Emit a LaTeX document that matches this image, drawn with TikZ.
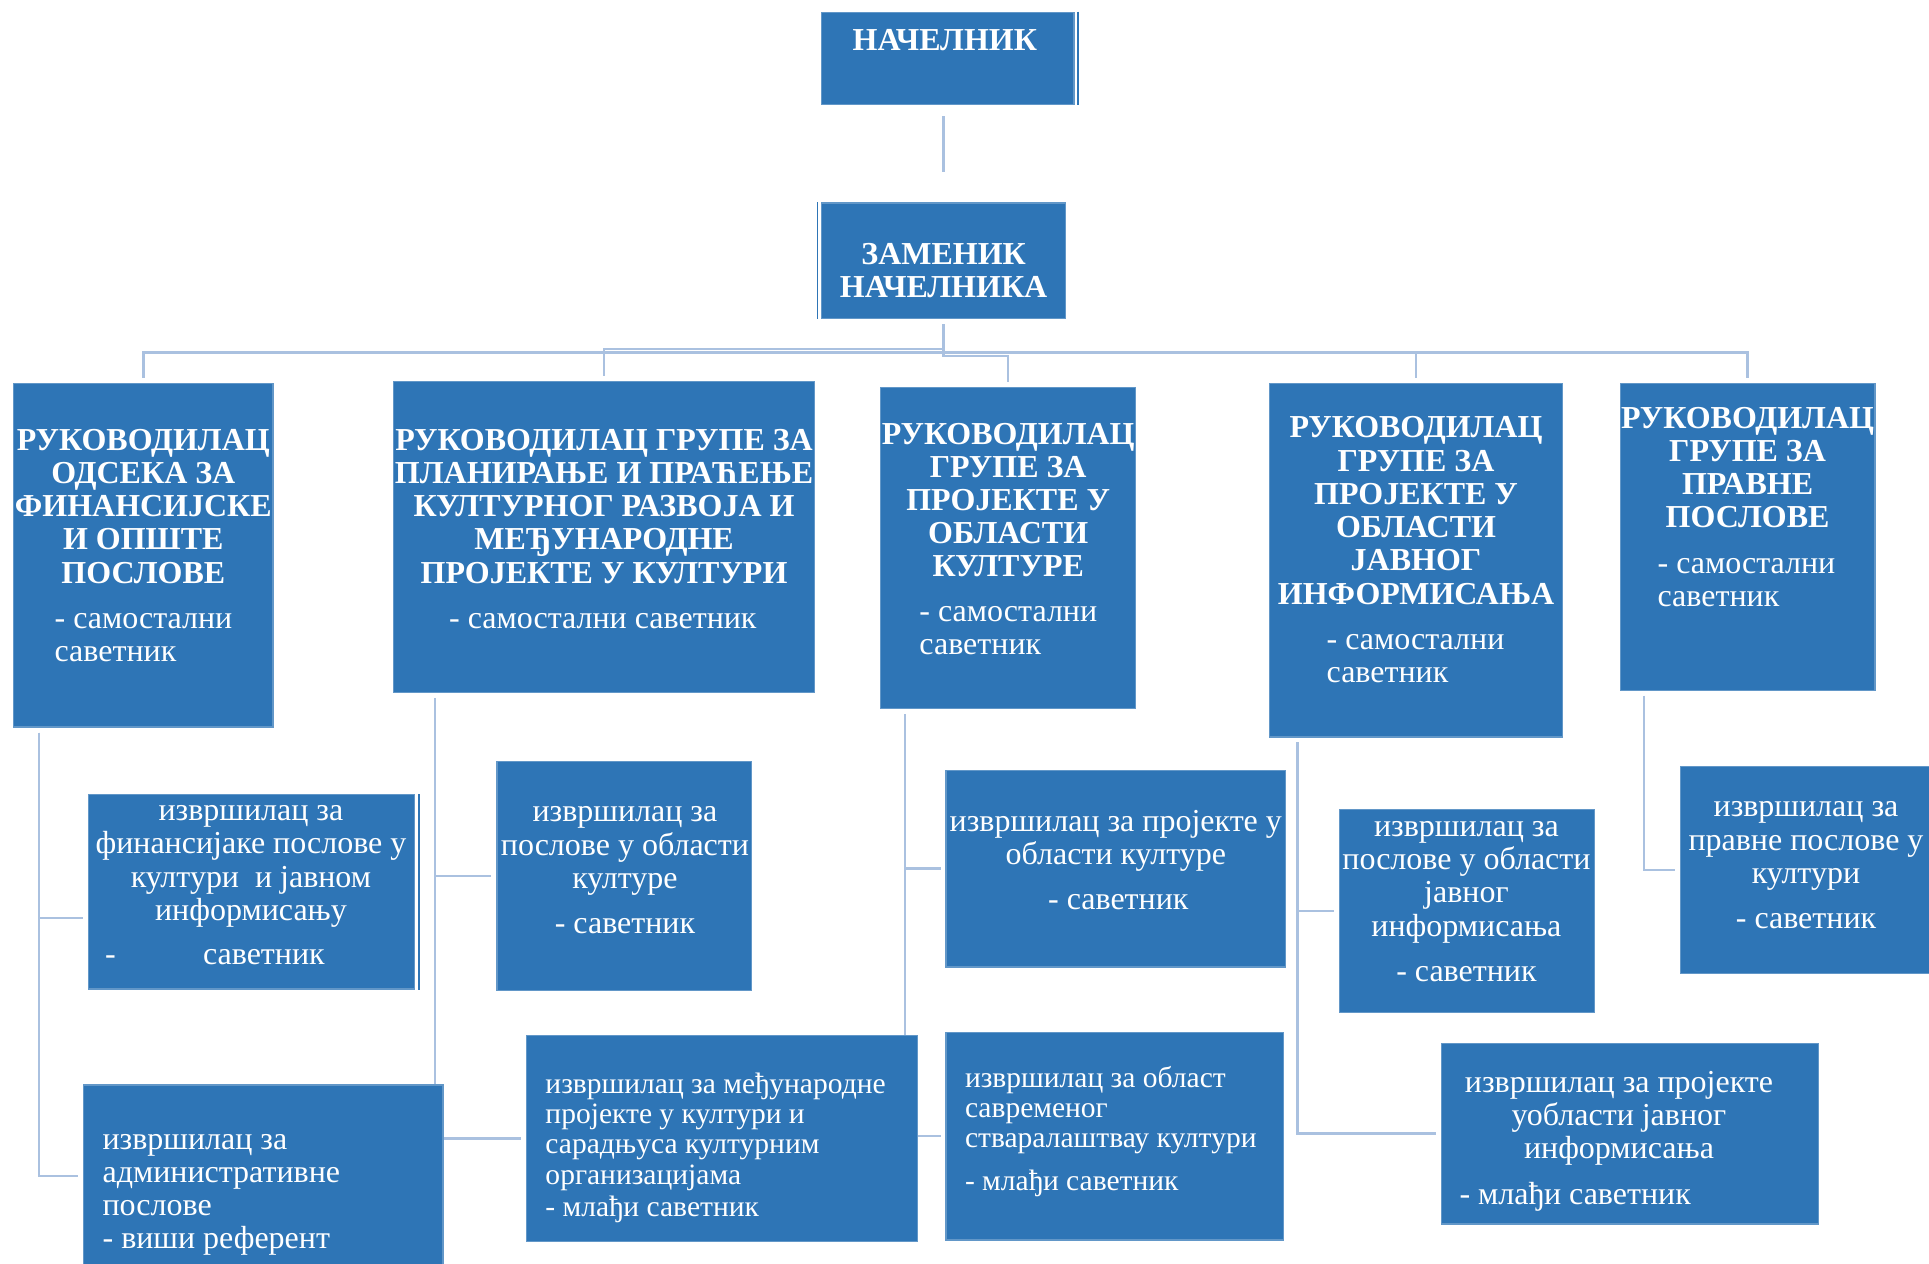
\documentclass[tikz,border=0pt]{standalone}
\usepackage{fontspec}
\setmainfont{Liberation Serif}
\usepackage{tikz}
\usetikzlibrary{fit,backgrounds}

\definecolor{boxblue}{RGB}{46,117,182}
\definecolor{linecol}{RGB}{170,193,224}

\tikzset{
    box/.style={fill=boxblue, draw=boxblue!75!white, line width=0.5pt, inner sep=0pt},
    conn/.style={draw=linecol, line width=1pt, shorten <=2pt, shorten >=2pt},
    titletxt/.style={text=white, font=\bfseries\fontsize{13}{13.5}\selectfont, align=center, anchor=base, inner sep=0pt},
    bodytxt/.style={text=white, font=\fontsize{13}{13.5}\selectfont, align=center, anchor=base, inner sep=0pt},
    lefttxt/.style={text=white, font=\fontsize{13}{13.5}\selectfont, align=left, anchor=base west, inner sep=0pt},
    smalltxt/.style={lefttxt, font=\fontsize{12}{12.25}\selectfont},
    edgeline/.style={draw=boxblue, line width=0.8pt}
}

\begin{document}
\begin{tikzpicture}[x=0.5pt,y=-0.5pt]
    \useasboundingbox (0,0) rectangle (1568,1027);
    \clip (0,0) rectangle (1568,1027);

    % Kutije
    \node[box, fit={(668,10) (873,85)}] (nac) {};
    \node[box, fit={(668,165) (866,259)}] (zam) {};
    \node[box, fit={(11,312) (222,591)}] (h1) {};
    \node[box, fit={(320,310) (662,563)}] (h2) {};
    \node[box, fit={(716,315) (923,576)}] (h3) {};
    \node[box, fit={(1032,312) (1270,599)}] (h4) {};
    \node[box, fit={(1317,312) (1524,561)}] (h5) {};
    \node[box, fit={(72,646) (337,804)}] (a1) {};
    \node[box, fit={(68,882) (360,1030)}] (a2) {};
    \node[box, fit={(404,619) (611,805)}] (b1) {};
    \node[box, fit={(428,842) (746,1009)}] (b2) {};
    \node[box, fit={(769,626) (1045,786)}] (c1) {};
    \node[box, fit={(769,839) (1043,1008)}] (c2) {};
    \node[box, fit={(1089,658) (1296,823)}] (d1) {};
    \node[box, fit={(1172,848) (1478,995)}] (d2) {};
    \node[box, fit={(1366,623) (1580,791)}] (e1) {};

    % Tanke linije uz ivice
    \draw[edgeline] ([xshift=1.5pt]nac.north east) -- ([xshift=1.5pt]nac.south east);
    \draw[edgeline] ([xshift=-1.5pt]zam.north west) -- ([xshift=-1.5pt]zam.south west);
    \draw[edgeline] ([xshift=1.5pt]a1.north east) -- ([xshift=1.5pt]a1.south east);

    % Veze
    \begin{scope}[on background layer]
        \draw[conn, shorten <=4.5pt, shorten >=12.5pt] (zam.north |- nac.south) -- (zam.north);
        \draw[conn] (zam.south) -- ++(0,27) -| (h1.north);
        \draw[conn] (zam.south) -- ++(0,24) -| (h2.north);
        \draw[conn] (zam.south) -- ++(0,30) -| (h3.north);
        \draw[conn] (zam.south) -- ++(0,27) -| (h4.north);
        \draw[conn] (zam.south) -- ++(0,27) -| (h5.north);
        \draw[conn] ([xshift=10.5pt]h1.south west) |- ([yshift=-10.5pt]a1.west);
        \draw[conn] ([xshift=10.5pt]h1.south west) |- (a2.west);
        \draw[conn] ([xshift=17pt]h2.south west) |- (b1.west);
        \draw[conn] ([xshift=17pt]h2.south west) |- (b2.west);
        \draw[conn] ([xshift=10pt]h3.south west) |- (c1.west);
        \draw[conn] ([xshift=10pt]h3.south west) |- (c2.west);
        \draw[conn] ([xshift=11.5pt]h4.south west) |- (d1.west);
        \draw[conn] ([xshift=11.5pt]h4.south west) |- (d2.west);
        \draw[conn] ([xshift=10pt]h5.south west) |- (e1.west);
    \end{scope}

    % Tekstovi (sidro je osnovna linija poslednjeg reda)
    \node[titletxt] (tnac) at (768,41) {НАЧЕЛНИК};
    \node[titletxt] (tzam) at (767,242) {ЗАМЕНИК\\НАЧЕЛНИКА};
    \node[titletxt] (th1) at (116.5,474) {РУКОВОДИЛАЦ\\ОДСЕКА ЗА\\ФИНАНСИЈСКЕ\\И ОПШТЕ\\ПОСЛОВЕ};
    \node[lefttxt] (rh1) at (44,538) {- самостални\\саветник};
    \node[titletxt] (th2) at (491,474) {РУКОВОДИЛАЦ ГРУПЕ ЗА\\ПЛАНИРАЊЕ И ПРАЋЕЊЕ\\КУЛТУРНОГ РАЗВОЈА И\\МЕЂУНАРОДНЕ\\ПРОЈЕКТЕ У КУЛТУРИ};
    \node[bodytxt] (rh2) at (490,511) {- самостални саветник};
    \node[titletxt] (th3) at (819.5,469) {РУКОВОДИЛАЦ\\ГРУПЕ ЗА\\ПРОЈЕКТЕ У\\ОБЛАСТИ\\КУЛТУРЕ};
    \node[lefttxt] (rh3) at (747,532) {- самостални\\саветник};
    \node[titletxt] (th4) at (1151,491) {РУКОВОДИЛАЦ\\ГРУПЕ ЗА\\ПРОЈЕКТЕ У\\ОБЛАСТИ\\ЈАВНОГ\\ИНФОРМИСАЊА};
    \node[lefttxt] (rh4) at (1078,555) {- самостални\\саветник};
    \node[titletxt] (th5) at (1420.5,429) {РУКОВОДИЛАЦ\\ГРУПЕ ЗА\\ПРАВНЕ\\ПОСЛОВЕ};
    \node[lefttxt] (rh5) at (1347,493) {- самостални\\саветник};

    \node[bodytxt] (ta1) at (204,748) {извршилац за\\финансијаке послове у\\култури\ \ и јавном\\информисању};
    \node[lefttxt] (ra1) at (85,784) {-\hspace{35.5pt}саветник};
    \node[lefttxt] (ta2) at (83,1015) {извршилац за\\административне\\послове\\- виши референт};
    \node[bodytxt] (tb1) at (508,722) {извршилац за\\послове у области\\културе};
    \node[bodytxt] (rb1) at (508,759) {- саветник};
    \node[smalltxt] (tb2) at (443,989) {извршилац за међународне\\пројекте у култури и\\сарадњуса културним\\организацијама\\[1pt]- млађи саветник};
    \node[bodytxt] (tc1) at (907,703) {извршилац за пројекте у\\области културе};
    \node[bodytxt] (rc1) at (909,739) {- саветник};
    \node[smalltxt] (tc2) at (784,933) {извршилац за област\\савременог\\стваралаштвау култури};
    \node[smalltxt] (rc2) at (784,968) {- млађи саветник};
    \node[bodytxt] (td1) at (1192,761) {извршилац за\\послове у области\\јавног\\информисања};
    \node[bodytxt] (rd1) at (1192,798) {- саветник};
    \node[bodytxt] (td2) at (1316,942) {извршилац за пројекте\\уобласти јавног\\информисања};
    \node[lefttxt] (rd2) at (1186,979) {- млађи саветник};
    \node[bodytxt] (te1) at (1468,718) {извршилац за\\правне послове у\\култури};
    \node[bodytxt] (re1) at (1468,755) {- саветник};
\end{tikzpicture}
\end{document}
